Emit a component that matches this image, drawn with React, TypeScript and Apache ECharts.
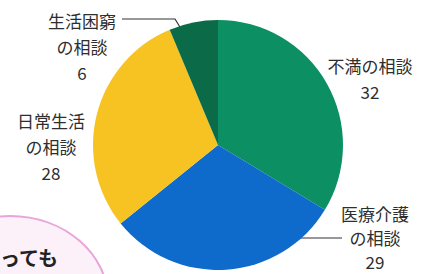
import React, { useEffect, useRef } from "react";
import * as echarts from "echarts";

const categories = ["不満の相談", "医療介護\nの相談", "日常生活\nの相談", "生活困窮\nの相談"];
const values = [32, 29, 28, 6];
const colors = ["#0c8f62", "#0f6bcb", "#f6c323", "#0b6b48"];
const bubbleText = "っても";

// label anchor (center x, top y), line height and leader lines, per slice
const labelPos = [
  [370, 52.5],
  [375, 201],
  [51, 107.5],
  [82, 7],
];
const labelLineHeights = [26, 24, 26, 26];
const leaderLines: (number[][] | null)[] = [
  null,
  [[290, 238], [316, 238], [342, 238]],
  null,
  [[183, 32], [175, 19], [122, 19]],
];

export default function App() {
  const ref = useRef<HTMLDivElement>(null);
  useEffect(() => {
    if (!ref.current) return;
    const chart = echarts.init(ref.current, null, { renderer: "svg" });
    chart.setOption({
      animation: false,
      backgroundColor: "#ffffff",
      graphic: [
        {
          type: "ellipse",
          z: -1,
          shape: { cx: 10, cy: 300, rx: 98, ry: 84 },
          style: { fill: "#fdf1f9", stroke: "#e8a6d8", lineWidth: 2 },
        },
        {
          type: "text",
          z: 0,
          x: 0,
          y: 257,
          style: {
            text: bubbleText,
            font: "bold 20px 'Noto Sans CJK JP'",
            fill: "#222222",
            verticalAlign: "middle",
            align: "left",
          },
        },
      ],
      series: [
        {
          type: "pie",
          center: [218, 145],
          radius: 125,
          startAngle: 90,
          clockwise: true,
          z: 2,
          itemStyle: { borderWidth: 0 },
          emphasis: { disabled: true },
          label: {
            show: true,
            position: "outside",
            overflow: "none",
            formatter: "{b}\n{c}",
            fontSize: 17,
            lineHeight: 26,
            color: "#2e2e2e",
            fontFamily: "'Noto Sans CJK JP'",
            align: "center",
          },
          labelLine: {
            show: true,
            lineStyle: { color: "#333333", width: 1.2 },
          },
          labelLayout: (params: any) => {
            const i = params.dataIndex;
            const res: any = {
              x: labelPos[i][0],
              y: labelPos[i][1],
              align: "center",
              verticalAlign: "top",
            };
            if (leaderLines[i]) res.labelLinePoints = leaderLines[i];
            return res;
          },
          data: categories.map((name, i) => ({
            name,
            value: values[i],
            itemStyle: { color: colors[i] },
            label: { lineHeight: labelLineHeights[i] },
            labelLine: { show: !!leaderLines[i] },
          })),
        },
      ],
    });
    return () => chart.dispose();
  }, []);
  return (
    <div
      ref={ref}
      style={{ position: "fixed", left: 0, top: 0, width: 431, height: 274 }}
    />
  );
}
